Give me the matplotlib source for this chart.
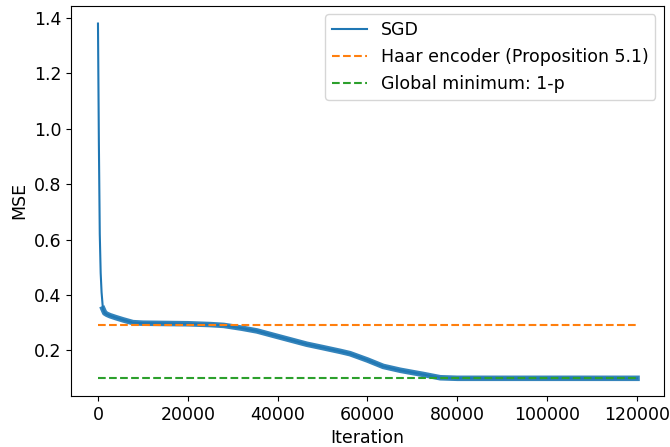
import matplotlib
matplotlib.use('Agg')
import matplotlib.pyplot as plt

# SGD loss curve
iters = [0, 200, 400, 600, 800, 1100, 1500, 2000, 2700, 4000, 5600, 7800, 10000,
         15000, 20000, 25000, 28000, 32000, 35400, 40000, 46500, 50000, 54000,
         56100, 60000, 63500, 67300, 70000, 72400, 76200, 80000, 90000, 100000,
         110000, 120000]
mse = [1.38, 0.95, 0.62, 0.48, 0.41, 0.35, 0.335, 0.33, 0.325, 0.318, 0.31, 0.30, 0.298,
       0.297, 0.296, 0.293, 0.29, 0.28, 0.27, 0.25, 0.222, 0.21, 0.196,
       0.188, 0.165, 0.142, 0.128, 0.12, 0.113, 0.101, 0.099, 0.099, 0.099,
       0.099, 0.099]

haar = 0.29
global_min = 0.1
x_range = [0, 120000]

plt.rcParams['font.size'] = 12.5
fig = plt.figure(figsize=(6.7, 4.47), dpi=100)
ax = fig.add_axes([0.106, 0.114, 0.885, 0.873])

# noisy band after the initial drop
ax.plot(iters[5:], mse[5:], color='C0', lw=4, alpha=0.9)
ax.plot(iters, mse, color='C0', lw=1.5, label='SGD')
ax.plot(x_range, [haar, haar], '--', color='C1', lw=1.5,
        label='Haar encoder (Proposition 5.1)')
ax.plot(x_range, [global_min, global_min], '--', color='C2', lw=1.5,
        label='Global minimum: 1-p')

ax.set_xlabel('Iteration')
ax.set_ylabel('MSE')
ax.legend(loc='upper right')

fig.savefig('out.png', dpi=100)
